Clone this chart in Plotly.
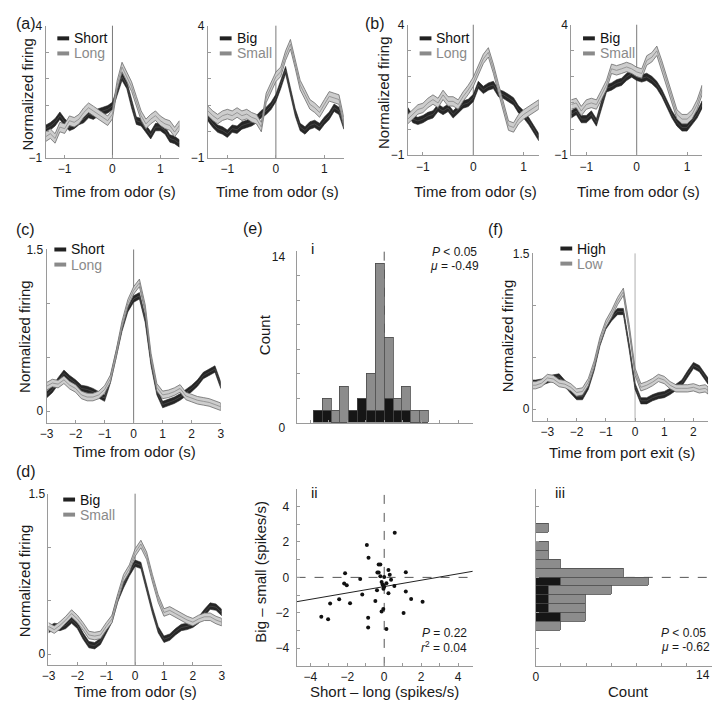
import plotly.graph_objects as go

# page geometry: the figure sits inside the page's default 8 px body margin
PAGE_W, PAGE_H = 724, 720
OX, OY = 8, 8
W, H = PAGE_W - 2 * OX, PAGE_H - 2 * OY - 1

# ---------------- data ----------------
# (a)/(b) time base, s
t_a = [-1.4, -1.3, -1.2, -1.1, -1.0, -0.9, -0.8, -0.7, -0.6, -0.5, -0.4, -0.3, -0.2, -0.1, 0.0,
       0.1, 0.2, 0.3, 0.4, 0.5, 0.6, 0.7, 0.8, 0.9, 1.0, 1.1, 1.2, 1.3, 1.4]
a_short = [0.10, 0.20, 0.35, 0.60, 0.35, 0.17, 0.25, 0.40, 0.47, 0.66, 0.60, 0.72, 0.78, 0.84, 0.97,
           1.52, 2.07, 1.76, 1.03, 0.41, 0.35, 0.10, -0.14, 0.17, 0.17, 0.04, -0.26, -0.32, -0.45]
a_long = [-0.20, -0.08, -0.26, 0.17, 0.11, 0.41, 0.35, 0.47, 0.72, 0.90, 0.78, 0.66, 0.54, 0.41, 0.66,
          1.76, 2.44, 2.07, 1.70, 1.15, 0.60, 0.29, 0.47, 0.60, 0.41, 0.29, 0.23, -0.02, 0.23]
a_big = [0.54, 0.29, 0.11, 0.04, -0.08, 0.11, 0.07, 0.23, 0.29, 0.35, 0.47, 0.66, 0.78, 0.97, 1.27,
         1.76, 2.32, 1.52, 0.72, 0.17, 0.04, 0.23, 0.29, 0.17, 0.41, 0.60, 0.90, 0.78, 0.23]
a_small = [0.78, 0.60, 0.47, 0.60, 0.66, 0.60, 0.72, 0.60, 0.66, 0.54, 0.47, 0.17, 1.27, 1.70, 2.07,
           2.26, 2.87, 3.30, 2.56, 1.76, 1.40, 1.03, 0.90, 0.72, 1.03, 1.33, 1.27, 1.21, 0.35]

t_b = [-1.3, -1.2, -1.1, -1.0, -0.9, -0.8, -0.7, -0.6, -0.5, -0.4, -0.3, -0.2, -0.1, 0.0,
       0.1, 0.2, 0.3, 0.4, 0.5, 0.6, 0.7, 0.8, 0.9, 1.0, 1.1, 1.2, 1.3]
b_short = [0.69, 0.38, 0.31, 0.38, 0.50, 0.56, 0.81, 0.69, 0.81, 0.56, 0.75, 0.94, 1.00, 1.19,
           1.69, 1.50, 1.63, 1.69, 1.38, 1.31, 1.19, 1.06, 0.75, 0.56, 0.31, 0.00, -0.31]
b_long = [0.38, 0.56, 0.75, 0.81, 1.00, 1.13, 1.00, 1.31, 1.06, 1.06, 0.94, 1.25, 1.50, 1.81,
          2.25, 2.69, 2.94, 2.31, 1.56, 0.81, 0.13, 0.06, 0.38, 0.56, 0.69, 0.81, 0.94]
b_big = [0.56, 0.69, 0.38, 0.38, 0.56, 0.25, 0.94, 1.56, 1.63, 1.75, 1.81, 2.00, 2.13, 2.00,
         1.94, 2.00, 1.88, 1.69, 1.38, 0.94, 0.56, 0.25, 0.06, 0.06, 0.31, 0.56, 0.94]
b_small = [0.94, 1.00, 0.69, 0.94, 1.00, 0.94, 1.31, 1.69, 2.31, 2.25, 2.31, 2.38, 2.31, 2.19,
           2.13, 2.63, 2.75, 3.00, 2.44, 1.81, 1.19, 0.56, 0.38, 0.38, 0.56, 0.94, 1.50]

# (c)/(d) time base, s
t_cd = [-3.0, -2.8, -2.6, -2.4, -2.2, -2.0, -1.8, -1.6, -1.4, -1.2, -1.0, -0.8, -0.6, -0.4, -0.2, 0.0,
        0.2, 0.4, 0.6, 0.8, 1.0, 1.2, 1.4, 1.6, 1.8, 2.0, 2.2, 2.4, 2.6, 2.8, 3.0]
c_short = [0.15, 0.20, 0.28, 0.35, 0.30, 0.26, 0.21, 0.20, 0.18, 0.15, 0.12, 0.29, 0.53, 0.77, 0.95, 1.04,
           1.07, 0.85, 0.45, 0.18, 0.06, 0.08, 0.10, 0.13, 0.17, 0.21, 0.26, 0.33, 0.36, 0.39, 0.24]
c_long = [0.23, 0.26, 0.25, 0.29, 0.24, 0.21, 0.15, 0.13, 0.13, 0.15, 0.20, 0.30, 0.53, 0.80, 1.00, 1.12,
          1.19, 0.95, 0.50, 0.22, 0.15, 0.16, 0.18, 0.21, 0.14, 0.12, 0.10, 0.09, 0.08, 0.06, 0.04]
d_big = [0.23, 0.26, 0.25, 0.27, 0.32, 0.27, 0.17, 0.09, 0.08, 0.12, 0.23, 0.33, 0.52, 0.65, 0.76, 0.85,
         0.83, 0.62, 0.41, 0.23, 0.14, 0.16, 0.21, 0.25, 0.26, 0.28, 0.32, 0.39, 0.45, 0.44, 0.39]
d_small = [0.26, 0.23, 0.27, 0.32, 0.38, 0.33, 0.26, 0.18, 0.17, 0.18, 0.26, 0.33, 0.53, 0.71, 0.80, 0.95,
           1.03, 0.92, 0.71, 0.52, 0.39, 0.41, 0.38, 0.35, 0.32, 0.30, 0.33, 0.35, 0.35, 0.32, 0.30]

# (f) time from port exit, s
t_f = [-3.5, -3.4, -3.2, -3.0, -2.8, -2.6, -2.4, -2.2, -2.0, -1.8, -1.6, -1.4, -1.2, -1.0, -0.8, -0.6,
       -0.4, -0.2, 0.0, 0.2, 0.4, 0.6, 0.8, 1.0, 1.2, 1.4, 1.6, 1.8, 2.0, 2.2, 2.4, 2.5]
f_high = [0.25, 0.25, 0.26, 0.28, 0.30, 0.31, 0.25, 0.18, 0.12, 0.12, 0.22, 0.40, 0.64, 0.80, 0.88, 0.94,
          0.94, 0.60, 0.22, 0.08, 0.08, 0.11, 0.13, 0.14, 0.17, 0.21, 0.25, 0.34, 0.42, 0.39, 0.31, 0.27]
f_low = [0.23, 0.23, 0.25, 0.30, 0.29, 0.25, 0.24, 0.21, 0.16, 0.17, 0.26, 0.43, 0.66, 0.82, 0.92, 1.04,
         1.13, 0.78, 0.36, 0.21, 0.23, 0.26, 0.30, 0.28, 0.23, 0.20, 0.20, 0.20, 0.21, 0.19, 0.20, 0.18]

# band half-widths (s.e.m.)
sem_ab_dark, sem_ab_light = 0.14, 0.18
sem_cdf_dark, sem_cdf_light = 0.03, 0.035

# (e) i: histogram of short - long
hist_i_centers = [-3.6, -3.12, -2.64, -2.16, -1.68, -1.2, -0.72, -0.24, 0.24, 0.72, 1.2, 1.68, 2.16]
hist_i_total = [1, 2, 1, 3, 1, 2, 4, 13, 7, 2, 3, 1, 1]
hist_i_black = [1, 1, 0, 0, 1, 2, 1, 1, 2, 1, 1, 0, 0]
hist_i_width = 0.48

# (e) ii: scatter
sl_diff = [0.57, -0.94, -0.85, -0.30, -0.21, 0.23, -2.12, -0.37, -0.30, 1.17, 0.30, -0.21, 0.00, -1.30,
           0.37, -0.14, 0.12, -2.17, -2.03, -0.09, -0.05, 0.00, 0.55, -0.04, -0.39, 1.17, 0.23, -1.19,
           -2.44, 1.46, -0.48, 2.08, -2.93, -1.85, -0.05, -0.14, 1.05, -3.41, -3.04, -0.87, -0.87, 0.12]
bs_diff = [2.52, 1.83, 1.11, 0.73, 0.73, 0.42, 0.24, 0.27, 0.27, 0.29, 0.15, 0.07, 0.02, -0.09,
           -0.13, -0.26, -0.33, -0.35, -0.44, -0.40, -0.46, -0.53, -0.49, -0.64, -0.73, -0.80, -0.89, -0.97,
           -1.24, -1.22, -1.33, -1.37, -1.48, -1.46, -1.79, -1.92, -2.01, -2.23, -2.36, -2.28, -2.83, -2.92]
fit_slope, fit_intercept = 0.18, -0.52

# (e) iii: histogram of big - small
hist_iii_centers = [2.75, 2.25, 1.75, 1.25, 0.75, 0.25, -0.25, -0.75, -1.25, -1.75, -2.25, -2.75]
hist_iii_total = [1, 0, 1, 1, 2, 7, 9, 6, 4, 4, 4, 2]
hist_iii_black = [0, 0, 0, 0, 0, 0, 2, 1, 1, 1, 2, 0]
hist_iii_width = 0.5

# ---------------- style ----------------
FONT = "Liberation Sans, Arial, sans-serif"
TXT = "#1a1a1a"
AX = "#9a9a9a"
DARK = "#262626"
DARK_MID = "#4a4a4a"
LIGHT_FILL = "#cdcdcd"
LIGHT_EDGE = "#6b6b6b"
LIGHT_MID = "#8a8a8a"
BAR_BLACK = "#161616"
BAR_GRAY = "#8c8c8c"
BAR_EDGE = "#4a4a4a"


# all positions below are given in page pixels and converted to paper units
def px(x):
    return (x - OX) / W


def py(y):
    return 1 - (y - OY) / H


def dom_x(a, b):
    return [max(0, px(a)), min(1, px(b))]


def dom_y(top, bottom):
    return [max(0, py(bottom)), min(1, py(top))]


def sfx(n):
    return "" if n == 1 else str(n)


fig = go.Figure()
axes = {}
shapes = []
annotations = []


def add_axes(n, xbox, ybox, xrange, yrange, xticks, xtext, yticks, ytext, ylabel_extra=None):
    common = dict(
        showline=True, linecolor=AX, linewidth=1, ticks="inside", ticklen=3,
        tickcolor=AX, showgrid=False, zeroline=False, ticklabeloverflow="allow",
        tickfont=dict(family=FONT, size=12, color=TXT),
    )
    axes["xaxis" + sfx(n)] = dict(common, domain=dom_x(*xbox), range=xrange,
                                  anchor="y" + sfx(n), tickvals=xticks, ticktext=xtext)
    axes["yaxis" + sfx(n)] = dict(common, domain=dom_y(*ybox), range=yrange,
                                  anchor="x" + sfx(n), tickvals=yticks, ticktext=ytext,
                                  **(ylabel_extra or {}))


def band(n, t, mean, sem, dark):
    upper = [m + sem for m in mean]
    lower = [m - sem for m in mean]
    ax = dict(xaxis="x" + sfx(n), yaxis="y" + sfx(n))
    if dark:
        fill, edge, mid, w = DARK, DARK, DARK_MID, 0.6
    else:
        fill, edge, mid, w = LIGHT_FILL, LIGHT_EDGE, LIGHT_MID, 0.8
    fig.add_trace(go.Scatter(x=t + t[::-1], y=upper + lower[::-1], fill="toself",
                             fillcolor=fill, line=dict(color=edge, width=w), mode="lines",
                             hoverinfo="skip", showlegend=False, **ax))
    fig.add_trace(go.Scatter(x=t, y=mean, mode="lines", line=dict(color=mid, width=0.8),
                             hoverinfo="skip", showlegend=False, **ax))


def vline(n, x, dash="solid", color="#7a7a7a"):
    shapes.append(dict(type="line", xref="x" + sfx(n), yref="y" + sfx(n) + " domain",
                       x0=x, x1=x, y0=0, y1=1, line=dict(color=color, width=1, dash=dash),
                       layer="below"))


def hline(n, y, dash="dash", color="#555555"):
    shapes.append(dict(type="line", xref="x" + sfx(n) + " domain", yref="y" + sfx(n),
                       x0=0, x1=1, y0=y, y1=y, line=dict(color=color, width=1, dash=dash),
                       layer="below"))


def text(s, x, y, size=15, color=TXT, xanchor="center", angle=0):
    annotations.append(dict(text=s, x=px(x), y=py(y), xref="paper", yref="paper",
                            showarrow=False, xanchor=xanchor, yanchor="middle",
                            textangle=angle, font=dict(family=FONT, size=size, color=color)))


def legend(x, y, labels):
    for i, (lab, col, tcol) in enumerate(labels):
        yy = y + i * 15.5
        shapes.append(dict(type="line", xref="paper", yref="paper",
                           x0=px(x), x1=px(x + 12), y0=py(yy), y1=py(yy),
                           line=dict(color=col, width=4)))
        text(lab, x + 15, yy, size=14, color=tcol, xanchor="left")


def dark_light(a, b):
    return [(a, "#222222", "#111111"), (b, "#8a8a8a", "#8a8a8a")]


# ---- (a) and (b) ----
ab_yticks = [-1, 0, 1, 2, 3, 4]
ab_ytext = ["\u22121", "", "", "", "", "4"]
ab_xticks = [-1, 0, 1]
ab_xtext = ["\u22121", "0", "1"]
panels_ab = [
    (1, (39, 175), (19, 155), [-1.4, 1.4], t_a, a_short, a_long, ("Short", "Long")),
    (2, (204, 342), (19, 155), [-1.4, 1.4], t_a, a_big, a_small, ("Big", "Small")),
    (3, (407, 540), (18, 152), [-1.3, 1.3], t_b, b_short, b_long, ("Short", "Long")),
    (4, (573, 706), (18, 152), [-1.3, 1.3], t_b, b_big, b_small, ("Big", "Small")),
]
for n, xb, yb, xr, t, d_ser, l_ser, labs in panels_ab:
    add_axes(n, xb, yb, xr, [-1, 4], ab_xticks, ab_xtext, ab_yticks, ab_ytext)
    band(n, t, d_ser, sem_ab_dark, True)
    band(n, t, l_ser, sem_ab_light, False)
    vline(n, 0)
    text("Time from odor (s)", (xb[0] + xb[1]) / 2 + 2, 189)
    legend(xb[0] + 12, 32, dark_light(*labs))

text("Normalized firing", 21, 89, angle=-90)
text("Normalized firing", 383, 88, angle=-90)

# ---- (c), (d), (f) ----
cdf_yticks = [0, 0.5, 1.0, 1.5]
cdf_ytext = ["0", "", "", "1.5"]
cd_xticks = [-3, -2, -1, 0, 1, 2, 3]
cd_xtext = ["\u22123", "\u22122", "\u22121", "0", "1", "2", "3"]

add_axes(5, (40, 217), (249, 427), [-3, 3], [-0.108, 1.5], cd_xticks, cd_xtext, cdf_yticks, cdf_ytext)
band(5, t_cd, c_short, sem_cdf_dark, True)
band(5, t_cd, c_long, sem_cdf_light, False)
vline(5, 0)
text("Time from odor (s)", 129, 457)
text("Normalized firing", 17, 338, angle=-90)
legend(48, 249, dark_light("Short", "Long"))

add_axes(6, (42, 218), (500, 676), [-3, 3], [-0.1, 1.5], cd_xticks, cd_xtext, cdf_yticks, cdf_ytext)
band(6, t_cd, d_big, sem_cdf_dark, True)
band(6, t_cd, d_small, sem_cdf_light, False)
vline(6, 0)
text("Time from odor (s)", 130, 703)
text("Normalized firing", 17, 589, angle=-90)
legend(57, 506, dark_light("Big", "Small"))

add_axes(7, (534, 712), (253, 425), [-3.5, 2.5], [-0.112, 1.5],
         [-3, -2, -1, 0, 1, 2], ["\u22123", "\u22122", "\u22121", "0", "1", "2"],
         cdf_yticks, cdf_ytext)
band(7, t_f, f_high, sem_cdf_dark, True)
band(7, t_f, f_low, sem_cdf_light, False)
vline(7, 0, color="#b0b0b0")
text("Time from port exit (s)", 625, 458)
text("Normalized firing", 508, 338, angle=-90)
legend(562, 248, dark_light("High", "Low"))

# ---- (e) i histogram ----
add_axes(8, (294, 473), (251, 427), [-4.75, 4.8], [0, 14],
         [-4, -3, -2, -1, 0, 1, 2, 3, 4], [""] * 9,
         [0, 2, 4, 6, 8, 10, 12, 14], ["0", "", "", "", "", "", "", "14"],
         ylabel_extra=dict(ticklabelstandoff=8, ticklabelshift=5))
hist_i_gray = [tot - blk for tot, blk in zip(hist_i_total, hist_i_black)]
bar_line = dict(color=BAR_EDGE, width=0.8)
fig.add_trace(go.Bar(x=hist_i_centers, y=hist_i_black, width=hist_i_width,
                     marker=dict(color=BAR_BLACK, line=bar_line),
                     xaxis="x8", yaxis="y8", showlegend=False, hoverinfo="skip"))
fig.add_trace(go.Bar(x=hist_i_centers, y=hist_i_gray, width=hist_i_width,
                     marker=dict(color=BAR_GRAY, line=bar_line),
                     xaxis="x8", yaxis="y8", showlegend=False, hoverinfo="skip"))
vline(8, 0, dash="dash", color="#555555")
text("Count", 261, 337, angle=-90)
text("i", 310, 248)
text("<i>P</i> < 0.05", 430, 252, size=12, xanchor="left")
text("<i>\u03bc</i> = -0.49", 428, 266, size=12, xanchor="left")

# ---- (e) ii scatter ----
sc_ticks = [-4, -3, -2, -1, 0, 1, 2, 3, 4]
sc_text = ["\u22124", "", "\u22122", "", "0", "", "2", "", "4"]
add_axes(9, (294, 473), (495, 677), [-4.75, 4.8], [-5, 5], sc_ticks, sc_text, sc_ticks, sc_text,
         ylabel_extra=dict(ticklabelstandoff=4))
vline(9, 0, dash="dash", color="#555555")
hline(9, 0)
fit_x = [-4.75, 4.8]
fit_y = [fit_slope * v + fit_intercept for v in fit_x]
fig.add_trace(go.Scatter(x=fit_x, y=fit_y, mode="lines", line=dict(color="#222222", width=1),
                         xaxis="x9", yaxis="y9", showlegend=False, hoverinfo="skip"))
fig.add_trace(go.Scatter(x=sl_diff, y=bs_diff, mode="markers",
                         marker=dict(color="#111111", size=4),
                         xaxis="x9", yaxis="y9", showlegend=False, hoverinfo="skip"))
text("Short \u2013 long (spikes/s)", 383, 703)
text("Big \u2013 small (spikes/s)", 257, 580, angle=-90)
text("ii", 312, 499)
text("<i>P</i> = 0.22", 469, 643, size=12, xanchor="right")
text("<i>r</i><sup>2</sup> = 0.04", 469, 658, size=12, xanchor="right")

# ---- (e) iii histogram ----
add_axes(10, (537, 716), (495, 677), [0, 14], [-5, 5],
         [0, 2, 4, 6, 8, 10, 12, 14], ["0", "", "", "", "", "", "", ""],
         [-4, -2, 0, 2, 4], [""] * 5)
hist_iii_gray = [tot - blk for tot, blk in zip(hist_iii_total, hist_iii_black)]
fig.add_trace(go.Bar(y=hist_iii_centers, x=hist_iii_black, width=hist_iii_width, orientation="h",
                     marker=dict(color=BAR_BLACK, line=bar_line),
                     xaxis="x10", yaxis="y10", showlegend=False, hoverinfo="skip"))
fig.add_trace(go.Bar(y=hist_iii_centers, x=hist_iii_gray, width=hist_iii_width, orientation="h",
                     marker=dict(color=BAR_GRAY, line=bar_line),
                     xaxis="x10", yaxis="y10", showlegend=False, hoverinfo="skip"))
hline(10, 0)
# end label of the count axis sits at the page edge, so place it as text
text("14", 716, 686, size=12, xanchor="right")
text("Count", 631, 703)
text("iii", 562, 499)
text("<i>P</i> < 0.05", 662, 643, size=12, xanchor="left")
text("<i>\u03bc</i> = -0.62", 662, 658, size=12, xanchor="left")

# ---- panel letters ----
for lab, x, y in [("(a)", 19, 17), ("(b)", 374, 17), ("(c)", 19, 228), ("(e)", 250, 227),
                  ("(f)", 496, 228), ("(d)", 19, 477)]:
    text(lab, x, y, size=16)

fig.update_layout(
    width=W, height=H, autosize=False,
    margin=dict(l=0, r=0, t=0, b=0),
    paper_bgcolor="white", plot_bgcolor="white",
    barmode="stack", bargap=0,
    font=dict(family=FONT, color=TXT),
    showlegend=False, hovermode=False,
    shapes=shapes, annotations=annotations,
    **axes,
)

fig.write_html("out.html")
